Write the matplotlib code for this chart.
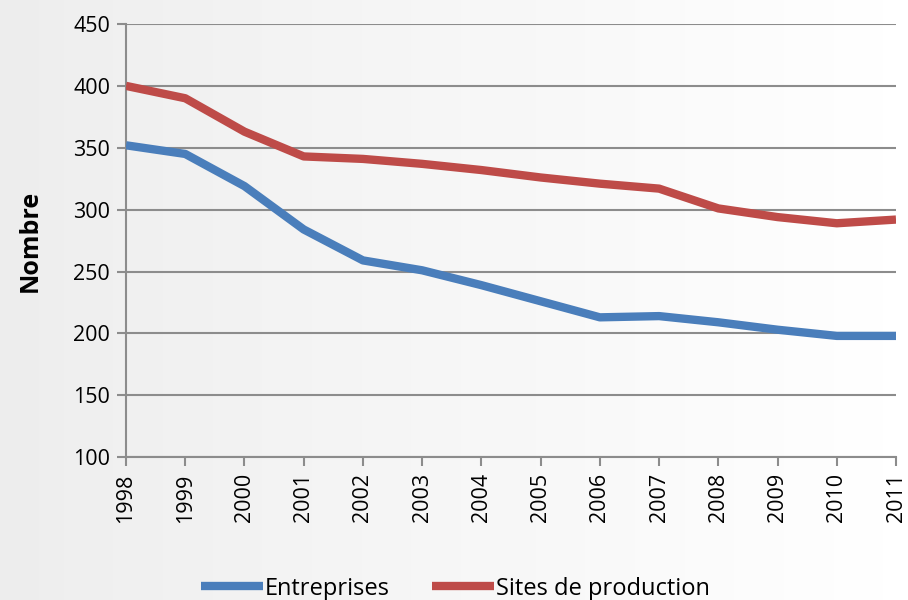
import numpy as np
import matplotlib.pyplot as plt

annees = list(range(1998, 2012))
entreprises = [352, 345, 319, 284, 259, 251, 239, 226, 213, 214, 209, 203, 198, 198]
sites = [400, 390, 363, 343, 341, 337, 332, 326, 321, 317, 301, 294, 289, 292]

plt.rcParams['font.family'] = ['Open Sans', 'DejaVu Sans']

fig = plt.figure(figsize=(9.08, 6.0), dpi=100)

# fond dégradé gris -> blanc
bg = fig.add_axes([0, 0, 1, 1], zorder=-10)
grad = np.linspace(0, 1, 256)
grad = np.vstack([grad] * 2)
bg.imshow(grad, aspect='auto', cmap='Greys_r', vmin=-6, vmax=1.0, extent=[0, 1, 0, 1])
bg.axis('off')

ax = fig.add_axes([0.1388, 0.238, 0.8480, 0.722])
ax.set_facecolor('none')

ax.plot(annees, entreprises, color='#4A7EBB', lw=6, solid_capstyle='butt', label='Entreprises', zorder=3)
ax.plot(annees, sites, color='#BE4B48', lw=6, solid_capstyle='butt', label='Sites de production', zorder=3)

ax.set_xlim(1998, 2011)
ax.set_ylim(100, 450)
ax.set_yticks(range(100, 451, 50))
ax.set_xticks(annees)
ax.set_xticklabels([str(a) for a in annees], rotation=90)

ax.grid(axis='y', color='#8c8c8c', lw=1.5)
for s in ['top', 'right']:
    ax.spines[s].set_visible(False)
ax.spines['left'].set_color('#8c8c8c')
ax.spines['bottom'].set_color('#8c8c8c')
ax.spines['left'].set_linewidth(1.5)
ax.spines['bottom'].set_linewidth(1.5)
ax.tick_params(axis='both', colors='#8c8c8c', labelcolor='black', labelsize=15.5,
               length=6.5, width=1.5, pad=5)

ax.set_ylabel('Nombre', fontsize=18, fontweight='bold', labelpad=22)

ax.legend(loc='lower center', bbox_to_anchor=(0.428, -0.38), ncol=2, frameon=False,
          fontsize=17, handlelength=2.6, handletextpad=0.1, columnspacing=1.8)

fig.savefig('out.png', dpi=100)
